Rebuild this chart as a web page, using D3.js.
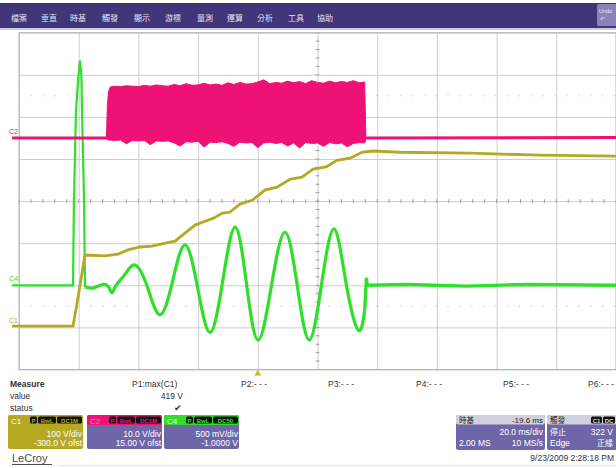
<!DOCTYPE html>
<html>
<head>
<meta charset="utf-8">
<script src="https://cdn.jsdelivr.net/npm/d3@7"></script>
<style>
  body { margin: 0; background: #fff; }
  svg text { font-family: "Liberation Sans", Arial, sans-serif; }
  svg .cjk { font-family: "Noto Sans CJK TC", sans-serif; }
</style>
</head>
<body>
<svg id="scope"></svg>
<script>
// ---- data ----
const menuItems = ["檔案", "垂直", "時基", "觸發", "顯示", "游標", "量測", "運算", "分析", "工具", "協助"];
const menuX = [11, 41, 70, 102, 134, 165, 197, 227, 257, 288, 317];

const timeTicks = [-80, -60, -40, -20, 0, 20, 40, 60, 80, 100, 120]; // ms, 20 ms/div
const divTicks = [-4, -3, -2, -1, 0, 1, 2, 3, 4];

const channelNames = ["C1", "C2", "C4"];
const channelVdiv = [100, 10, 0.5];
const channelOffset = [-300, 15, -1];

// C1 (olive)
const c1Time = [-82.3, -61.9, -60.5, -57.9, -51.2, -46.8, -43.5, -39.5, -35.4, -31.1, -27.7, -24.4, -21.0, -17.7, -15.0, -12.0, -9.3, -6.0, -1.9, 2.4, 6.4, 10.8, 14.8, 18.5, 22.9, 26.5, 30.9, 34.9, 38.3, 47.6, 71.1, 94.5, 120];
const c1Volts = [3, 3, 60, 172, 170, 174, 184, 191, 193, 200, 205, 224, 243, 252, 259, 271, 274, 293, 302, 326, 333, 352, 357, 376, 381, 397, 402, 416, 419, 416, 414, 409, 407];

// C2 (pink) baseline and burst envelope
const c2BeforeTime = [-82.3, -50.7];
const c2BeforeVolts = [0, 0];
const c2AfterTime = [36.2, 120];
const c2AfterVolts = [0, 0.1];
const burstTime = [-50.7, -50.4, -50.0, -49.4, -48, -46, -44, -42, -40, -38, -36, -34, -32, -30, -28, -26, -24, -22, -20, -18, -16, -14, -12, -10, -8, -6, -4, -2, 0, 2, 4, 6, 8, 10, 12, 14, 16, 18, 20, 22, 24, 26, 28, 30, 32, 34, 35.8, 36.2];
const burstHigh = [0.3, 7.5, 11.0, 12.1, 12.3, 12.2, 12.4, 12.3, 12.2, 12.5, 12.3, 12.6, 12.4, 12.3, 12.7, 12.4, 12.9, 12.5, 12.6, 13.0, 12.6, 12.8, 12.5, 13.1, 12.7, 13.2, 12.8, 12.9, 13.3, 13.8, 12.9, 13.2, 13.0, 13.5, 13.1, 13.4, 12.9, 13.6, 13.2, 13.0, 13.5, 13.1, 13.4, 13.2, 13.6, 13.1, 13.3, 0.3];
const burstLow = [-0.3, -0.4, -0.5, -0.5, -0.6, -0.5, -1.4, -0.6, -0.7, -0.6, -1.6, -0.7, -0.8, -0.7, -1.2, -1.9, -0.9, -1.0, -0.8, -2.2, -1.0, -1.1, -0.9, -1.3, -2.0, -1.0, -1.2, -1.1, -2.3, -1.2, -1.0, -1.3, -1.1, -1.9, -1.2, -2.4, -1.1, -1.3, -1.2, -2.0, -1.1, -1.4, -1.2, -2.1, -1.3, -1.1, -1.2, -0.3];

// C4 (green): trigger pulse, then the growing oscillation
const c4PulseTime = [-82.3, -61.9, -61.6, -60.9, -60.2, -59.6, -59.1, -58.9, -58.2, -57.9];
const c4PulseVolts = [0, 0, 1.0, 2.08, 2.44, 2.67, 2.5, 2.08, 1.0, -0.02];
const c4Time = [-57.9, -55, -52, -50, -48.8, -47.5, -44.5, -41.1, -37.0, -32.8, -28.6, -24.4, -20.2, -16.0, -11.8, -7.6, -3.8, 0.1, 4.6, 9.1, 13.2, 17.2, 21.3, 25.5, 29.5, 33.6, 35.8];
const c4Volts = [-0.02, -0.03, 0.01, -0.02, -0.09, 0, 0.13, 0.24, -0.02, -0.35, 0.04, 0.48, -0.02, -0.56, 0.04, 0.69, 0.02, -0.65, 0, 0.63, 0, -0.65, 0, 0.67, 0.04, -0.53, -0.3];
const c4TailTime = [35.8, 36.4, 36.6, 50, 70, 90, 120];
const c4TailVolts = [-0.3, 0.09, 0, 0.01, -0.01, 0.01, 0];

// measurement row
const paramLabels = ["P1:max(C1)", "P2:- - -", "P3:- - -", "P4:- - -", "P5:- - -", "P6:- - -"];
const paramX = [132, 241, 328, 416, 503, 588];
const p1Value = "419 V";

const colors = { C1: "#b5a823", C2: "#ee1277", C4: "#2fe02a" };

class ScopeChart {
  constructor(_config) {
    this.config = {
      parentElement: _config.parentElement,
      containerWidth: _config.containerWidth || 616,
      containerHeight: _config.containerHeight || 468,
      grid: _config.grid || { left: 19, right: 616, top: 32.7, bottom: 369.5 },
    };
    this.initVis();
  }

  initVis() {
    let vis = this;
    const g = vis.config.grid;

    vis.svg = d3
      .select(vis.config.parentElement)
      .attr("width", vis.config.containerWidth)
      .attr("height", vis.config.containerHeight);

    vis.xScale = d3.scaleLinear().domain([-80, 120]).range([g.left, g.right]);
    vis.divScale = d3.scaleLinear().domain([-4, 4]).range([g.bottom, g.top]);

    // one vertical scale per channel, from V/div and offset
    vis.yScales = {};
    channelNames.forEach((c, i) => {
      const vd = channelVdiv[i], off = channelOffset[i];
      vis.yScales[c] = d3.scaleLinear()
        .domain([-4 * vd - off, 4 * vd - off])
        .range([g.bottom, g.top]);
    });
  }

  renderVis() {
    let vis = this;
    const g = vis.config.grid;
    const svg = vis.svg;

    // menu bar
    svg.append("rect").attr("x", 0).attr("y", 3).attr("width", 616).attr("height", 25).attr("fill", "#41367a");
    svg.append("rect").attr("x", 0).attr("y", 28).attr("width", 616).attr("height", 2).attr("fill", "#cfcbe3");
    svg.selectAll(".menu")
      .data(menuItems)
      .join("text")
      .attr("class", "menu cjk")
      .attr("x", (d, i) => menuX[i])
      .attr("y", 21)
      .attr("font-size", 8)
      .attr("fill", "#e4e2f2")
      .text((d) => d);
    svg.append("rect").attr("x", 597).attr("y", 4).attr("width", 22).attr("height", 22).attr("rx", 2).attr("fill", "#8a82b8");
    svg.append("text").attr("x", 599).attr("y", 13).attr("font-size", 5.5).attr("fill", "#e8e6f4").text("Undo");
    svg.append("text").attr("x", 600).attr("y", 21).attr("font-size", 5.5).attr("fill", "#e8e6f4").text("↶");

    // grid from axes
    const plot = svg.append("g");
    const xGrid = d3.axisBottom(vis.xScale).tickValues(timeTicks).tickSize(-(g.bottom - g.top)).tickFormat("");
    plot.append("g")
      .attr("transform", `translate(0,${g.bottom})`)
      .call(xGrid)
      .call((s) => s.select(".domain").remove())
      .call((s) => s.selectAll("line").attr("stroke", "#cdcdcd"));
    const yGrid = d3.axisLeft(vis.divScale).tickValues(divTicks).tickSize(-(g.right - g.left)).tickFormat("");
    plot.append("g")
      .attr("transform", `translate(${g.left},0)`)
      .call(yGrid)
      .call((s) => s.select(".domain").remove())
      .call((s) => s.selectAll("line").attr("stroke", "#cdcdcd"));

    // faint dotted rows
    [-2.5, 2.5].forEach((d) => {
      plot.append("line")
        .attr("x1", g.left).attr("x2", g.right)
        .attr("y1", vis.divScale(d)).attr("y2", vis.divScale(d))
        .attr("stroke", "#c4c4c4").attr("stroke-dasharray", "1.2,10.7");
    });

    // minor ticks on the centre lines
    const cx = vis.xScale(20), cy = vis.divScale(0);
    plot.selectAll(".hmin")
      .data(d3.range(-80, 120.01, 4))
      .join("line")
      .attr("x1", (d) => vis.xScale(d)).attr("x2", (d) => vis.xScale(d))
      .attr("y1", cy - 2).attr("y2", cy + 2)
      .attr("stroke", "#a0a0a0");
    plot.selectAll(".vmin")
      .data(d3.range(-4, 4.01, 0.2))
      .join("line")
      .attr("x1", cx - 2).attr("x2", cx + 2)
      .attr("y1", (d) => vis.divScale(d)).attr("y2", (d) => vis.divScale(d))
      .attr("stroke", "#a0a0a0");

    plot.append("rect")
      .attr("x", g.left).attr("y", g.top)
      .attr("width", g.right - g.left).attr("height", g.bottom - g.top)
      .attr("fill", "none").attr("stroke", "#b4b4b4");

    // traces
    const lineFor = (c, curve) => d3.line()
      .x((d) => vis.xScale(d[0]))
      .y((d) => vis.yScales[c](d[1]))
      .curve(curve || d3.curveLinear);

    plot.append("path")
      .datum(d3.zip(c4PulseTime, c4PulseVolts))
      .attr("d", lineFor("C4"))
      .attr("fill", "none").attr("stroke", colors.C4).attr("stroke-width", 2.2);
    plot.append("path")
      .datum(d3.zip(c4Time, c4Volts))
      .attr("d", lineFor("C4", d3.curveNatural))
      .attr("fill", "none").attr("stroke", colors.C4).attr("stroke-width", 3.2);
    plot.append("path")
      .datum(d3.zip(c4TailTime, c4TailVolts))
      .attr("d", lineFor("C4"))
      .attr("fill", "none").attr("stroke", colors.C4).attr("stroke-width", 3.4);

    plot.append("path")
      .datum(d3.zip(c1Time, c1Volts))
      .attr("d", lineFor("C1"))
      .attr("fill", "none").attr("stroke", colors.C1).attr("stroke-width", 2.8);

    const burst = d3.zip(burstTime, burstLow, burstHigh);
    plot.append("path")
      .datum(burst)
      .attr("d", d3.area()
        .x((d) => vis.xScale(d[0]))
        .y0((d) => vis.yScales.C2(d[1]))
        .y1((d) => vis.yScales.C2(d[2])))
      .attr("fill", colors.C2).attr("stroke", colors.C2).attr("stroke-width", 1);
    [[c2BeforeTime, c2BeforeVolts], [c2AfterTime, c2AfterVolts]].forEach(([t, v]) => {
      plot.append("path")
        .datum(d3.zip(t, v))
        .attr("d", lineFor("C2"))
        .attr("fill", "none").attr("stroke", colors.C2).attr("stroke-width", 3);
    });

    // channel markers on the left
    channelNames.forEach((c) => {
      svg.append("text")
        .attr("x", 9)
        .attr("y", vis.yScales[c](0) - 4)
        .attr("font-size", 7)
        .attr("fill", colors[c])
        .text(c);
    });

    // trigger position marker
    const tx = vis.xScale(0);
    svg.append("path")
      .attr("d", `M${tx},${g.bottom + 0.5} L${tx + 3.5},${g.bottom + 6} L${tx - 3.5},${g.bottom + 6} Z`)
      .attr("fill", "#c9b420");

    // measure table
    const mt = svg.append("g").attr("font-size", 8.5).attr("fill", "#333");
    mt.append("text").attr("x", 10).attr("y", 387).attr("font-weight", "bold").text("Measure");
    mt.append("text").attr("x", 10).attr("y", 399).text("value");
    mt.append("text").attr("x", 10).attr("y", 411).text("status");
    mt.selectAll(".param")
      .data(paramLabels)
      .join("text")
      .attr("x", (d, i) => paramX[i])
      .attr("y", 387)
      .text((d) => d);
    mt.append("text").attr("x", 183).attr("y", 399).attr("text-anchor", "end").text(p1Value);
    mt.append("text").attr("x", 174).attr("y", 411).attr("font-size", 9).attr("font-family", "DejaVu Sans").text("✔");

    // channel boxes
    const boxes = [
      { x: 8, name: "C1", head: colors.C1, body: colors.C1, nameFill: "#fff", coupling: "DC1M", l1: "100 V/div", l2: "-300.0 V ofst" },
      { x: 87, name: "C2", head: colors.C2, body: "#6e66a8", nameFill: "#f77fb5", coupling: "DC1M", l1: "10.0 V/div", l2: "15.00 V ofst" },
      { x: 164, name: "C4", head: colors.C4, body: "#6e66a8", nameFill: "#eaffea", coupling: "DC50", l1: "500 mV/div", l2: "-1.0000 V" },
    ];
    boxes.forEach((b) => {
      const bg = svg.append("g").attr("transform", `translate(${b.x},415)`);
      bg.append("rect").attr("width", 75).attr("height", 34).attr("rx", 2).attr("fill", b.body);
      bg.append("rect").attr("width", 75).attr("height", 10).attr("rx", 2).attr("fill", b.head);
      bg.append("text").attr("x", 3).attr("y", 8.5).attr("font-size", 8).attr("fill", b.nameFill).text(b.name);
      [["P", 22, 7], ["BwL", 30, 18], [b.coupling, 49, 25]].forEach(([t, x, w]) => {
        bg.append("rect").attr("x", x).attr("y", 1.5).attr("width", w).attr("height", 7).attr("rx", 1.5).attr("fill", "#111");
        bg.append("text").attr("x", x + w / 2).attr("y", 7.6).attr("text-anchor", "middle")
          .attr("font-size", 6).attr("font-weight", "bold").attr("fill", b.head).text(t);
      });
      bg.append("text").attr("x", 74).attr("y", 22).attr("text-anchor", "end").attr("font-size", 8.5).attr("fill", "#fff").text(b.l1);
      bg.append("text").attr("x", 74).attr("y", 31).attr("text-anchor", "end").attr("font-size", 8.5).attr("fill", "#fff").text(b.l2);
    });

    // timebase box
    const tb = svg.append("g").attr("transform", "translate(456,415)");
    tb.append("rect").attr("width", 89).attr("height", 35).attr("rx", 2).attr("fill", "#6e66a8");
    tb.append("rect").attr("width", 89).attr("height", 9.5).attr("rx", 2).attr("fill", "#d2d0dc");
    tb.append("text").attr("class", "cjk").attr("x", 3).attr("y", 8).attr("font-size", 7.5).attr("fill", "#222").text("時基");
    tb.append("text").attr("x", 87).attr("y", 8).attr("text-anchor", "end").attr("font-size", 8).attr("fill", "#222").text("-19.6 ms");
    tb.append("text").attr("x", 87).attr("y", 20).attr("text-anchor", "end").attr("font-size", 8.5).attr("fill", "#fff").text("20.0 ms/div");
    tb.append("text").attr("x", 3).attr("y", 31).attr("font-size", 8.5).attr("fill", "#fff").text("2.00 MS");
    tb.append("text").attr("x", 87).attr("y", 31).attr("text-anchor", "end").attr("font-size", 8.5).attr("fill", "#fff").text("10 MS/s");

    // trigger box
    const tr = svg.append("g").attr("transform", "translate(547,415)");
    tr.append("rect").attr("width", 75).attr("height", 35).attr("rx", 2).attr("fill", "#6e66a8");
    tr.append("rect").attr("width", 75).attr("height", 9.5).attr("rx", 2).attr("fill", "#d2d0dc");
    tr.append("text").attr("class", "cjk").attr("x", 3).attr("y", 8).attr("font-size", 7.5).attr("fill", "#222").text("觸發");
    [["C1", 44, 11], ["DC", 56, 12]].forEach(([t, x, w]) => {
      tr.append("rect").attr("x", x).attr("y", 1.5).attr("width", w).attr("height", 7).attr("rx", 1.5).attr("fill", "#111");
      tr.append("text").attr("x", x + w / 2).attr("y", 7.6).attr("text-anchor", "middle")
        .attr("font-size", 6).attr("font-weight", "bold").attr("fill", "#ddd").text(t);
    });
    tr.append("text").attr("class", "cjk").attr("x", 3).attr("y", 20).attr("font-size", 8).attr("fill", "#fff").text("停止");
    tr.append("text").attr("x", 66).attr("y", 20).attr("text-anchor", "end").attr("font-size", 8.5).attr("fill", "#fff").text("322 V");
    tr.append("text").attr("x", 3).attr("y", 31).attr("font-size", 8.5).attr("fill", "#fff").text("Edge");
    tr.append("text").attr("class", "cjk").attr("x", 66).attr("y", 31).attr("text-anchor", "end").attr("font-size", 8).attr("fill", "#fff").text("正緣");

    // footer
    svg.append("text").attr("x", 614).attr("y", 461).attr("text-anchor", "end")
      .attr("font-size", 8.5).attr("fill", "#333").text("9/23/2009 2:28:18 PM");
    svg.append("text").attr("x", 12).attr("y", 462).attr("font-size", 11).attr("fill", "#4a4a4a").text("LeCroy");
    svg.append("line").attr("x1", 12).attr("x2", 52).attr("y1", 464.5).attr("y2", 464.5).attr("stroke", "#4a4a4a");
    svg.append("line").attr("x1", 58).attr("x2", 616).attr("y1", 465.5).attr("y2", 465.5).attr("stroke", "#e2e2e2");
  }
}

const chart = new ScopeChart({ parentElement: "#scope" });
chart.renderVis();
</script>
</body>
</html>
